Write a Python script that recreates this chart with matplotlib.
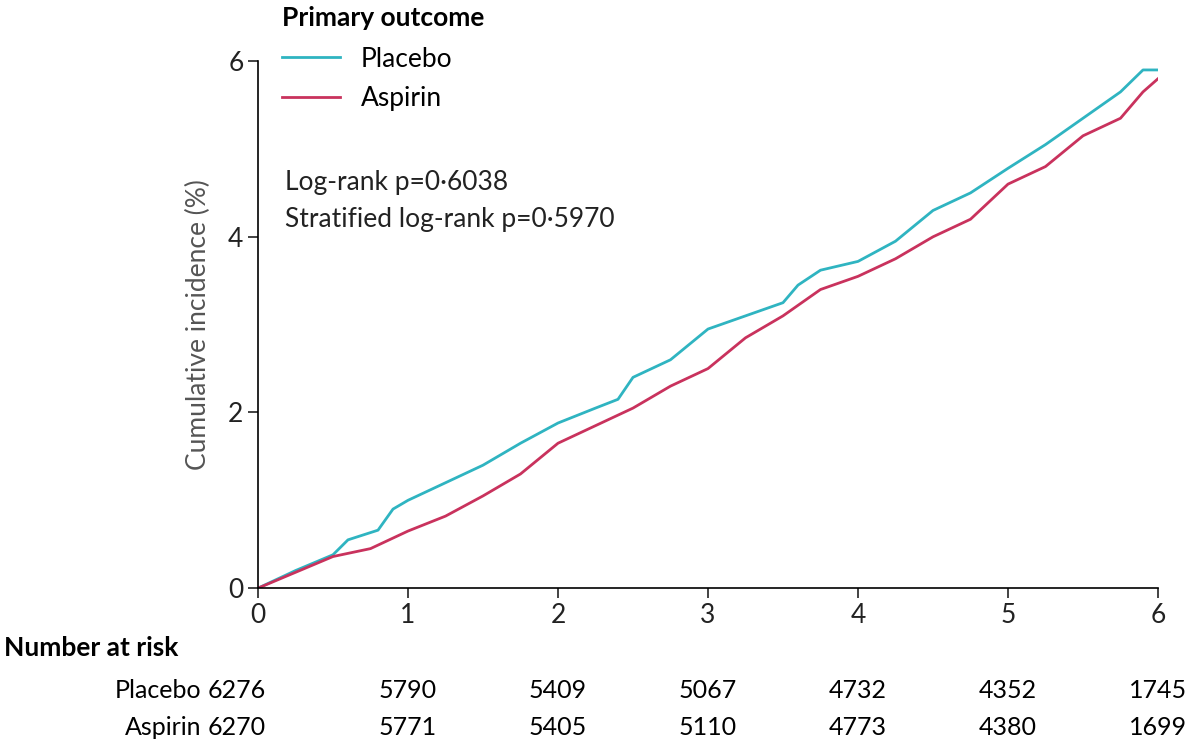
import matplotlib
matplotlib.use("Agg")
import matplotlib.pyplot as plt

plt.rcParams["font.family"] = ["Lato", "DejaVu Sans"]

years = [0, 0.25, 0.5, 0.6, 0.8, 0.9, 1.0, 1.25, 1.5, 1.75, 2.0, 2.25, 2.4, 2.5, 2.75,
         3.0, 3.25, 3.5, 3.6, 3.75, 4.0, 4.25, 4.5, 4.75, 5.0, 5.25, 5.5, 5.75, 5.9, 6.0]
placebo = [0, 0.2, 0.38, 0.55, 0.66, 0.9, 1.0, 1.2, 1.4, 1.65, 1.88, 2.05, 2.15, 2.4, 2.6,
           2.95, 3.1, 3.25, 3.45, 3.62, 3.72, 3.95, 4.3, 4.5, 4.78, 5.05, 5.35, 5.65, 5.9, 5.9]
years_a = [0, 0.25, 0.5, 0.75, 1.0, 1.25, 1.5, 1.75, 2.0, 2.25, 2.5, 2.75, 3.0, 3.25,
           3.5, 3.75, 4.0, 4.25, 4.5, 4.75, 5.0, 5.25, 5.5, 5.75, 5.9, 6.0]
aspirin = [0, 0.18, 0.36, 0.45, 0.65, 0.82, 1.05, 1.3, 1.65, 1.85, 2.05, 2.3, 2.5, 2.85,
           3.1, 3.4, 3.55, 3.75, 4.0, 4.2, 4.6, 4.8, 5.15, 5.35, 5.65, 5.8]

risk_years = [0, 1, 2, 3, 4, 5, 6]
risk_placebo = [6276, 5790, 5409, 5067, 4732, 4352, 1745]
risk_aspirin = [6270, 5771, 5405, 5110, 4773, 4380, 1699]

teal = "#2fb4c1"
crimson = "#c9325d"

fig = plt.figure(figsize=(12, 7.55), dpi=100)
ax = fig.add_axes([0.215, 0.221, 0.75, 0.698])

ax.plot(years, placebo, color=teal, lw=2, label="Placebo")
ax.plot(years_a, aspirin, color=crimson, lw=2, label="Aspirin")

ax.set_xlim(0, 6)
ax.set_ylim(0, 6)
ax.set_xticks(risk_years)
ax.set_yticks([0, 2, 4, 6])
ax.tick_params(labelsize=19, direction="out", length=7, width=1.2, colors="#222222")
for s in ["top", "right"]:
    ax.spines[s].set_visible(False)
for s in ["left", "bottom"]:
    ax.spines[s].set_linewidth(1.2)
ax.set_ylabel("Cumulative incidence (%)", fontsize=19, color="#555555", labelpad=12)

leg = ax.legend(loc="upper left", bbox_to_anchor=(0.0, 1.15), frameon=False, fontsize=19,
                handlelength=2.2, title="Primary outcome", labelspacing=0.55,
                title_fontproperties={"size": 19, "weight": "bold"})
leg._legend_box.align = "left"
leg._legend_box.sep = 12

ax.text(0.03, 0.77, "Log-rank p=0·6038", transform=ax.transAxes, fontsize=19,
        color="#222222", va="center")
ax.text(0.03, 0.70, "Stratified log-rank p=0·5970", transform=ax.transAxes, fontsize=19,
        color="#222222", va="center")

fig.text(0.003, 0.142, "Number at risk", fontsize=19, weight="bold", va="center")
fig.text(0.168, 0.086, "Placebo", fontsize=18, ha="right", va="center")
fig.text(0.168, 0.036, "Aspirin", fontsize=18, ha="right", va="center")
for yr, p, a in zip(risk_years, risk_placebo, risk_aspirin):
    xf = 0.215 + 0.75 * yr / 6
    ha = "center"
    if yr == 0:
        xf, ha = 0.173, "left"
    fig.text(xf, 0.086, str(p), fontsize=18, ha=ha, va="center")
    fig.text(xf, 0.036, str(a), fontsize=18, ha=ha, va="center")

fig.savefig("out.png")
